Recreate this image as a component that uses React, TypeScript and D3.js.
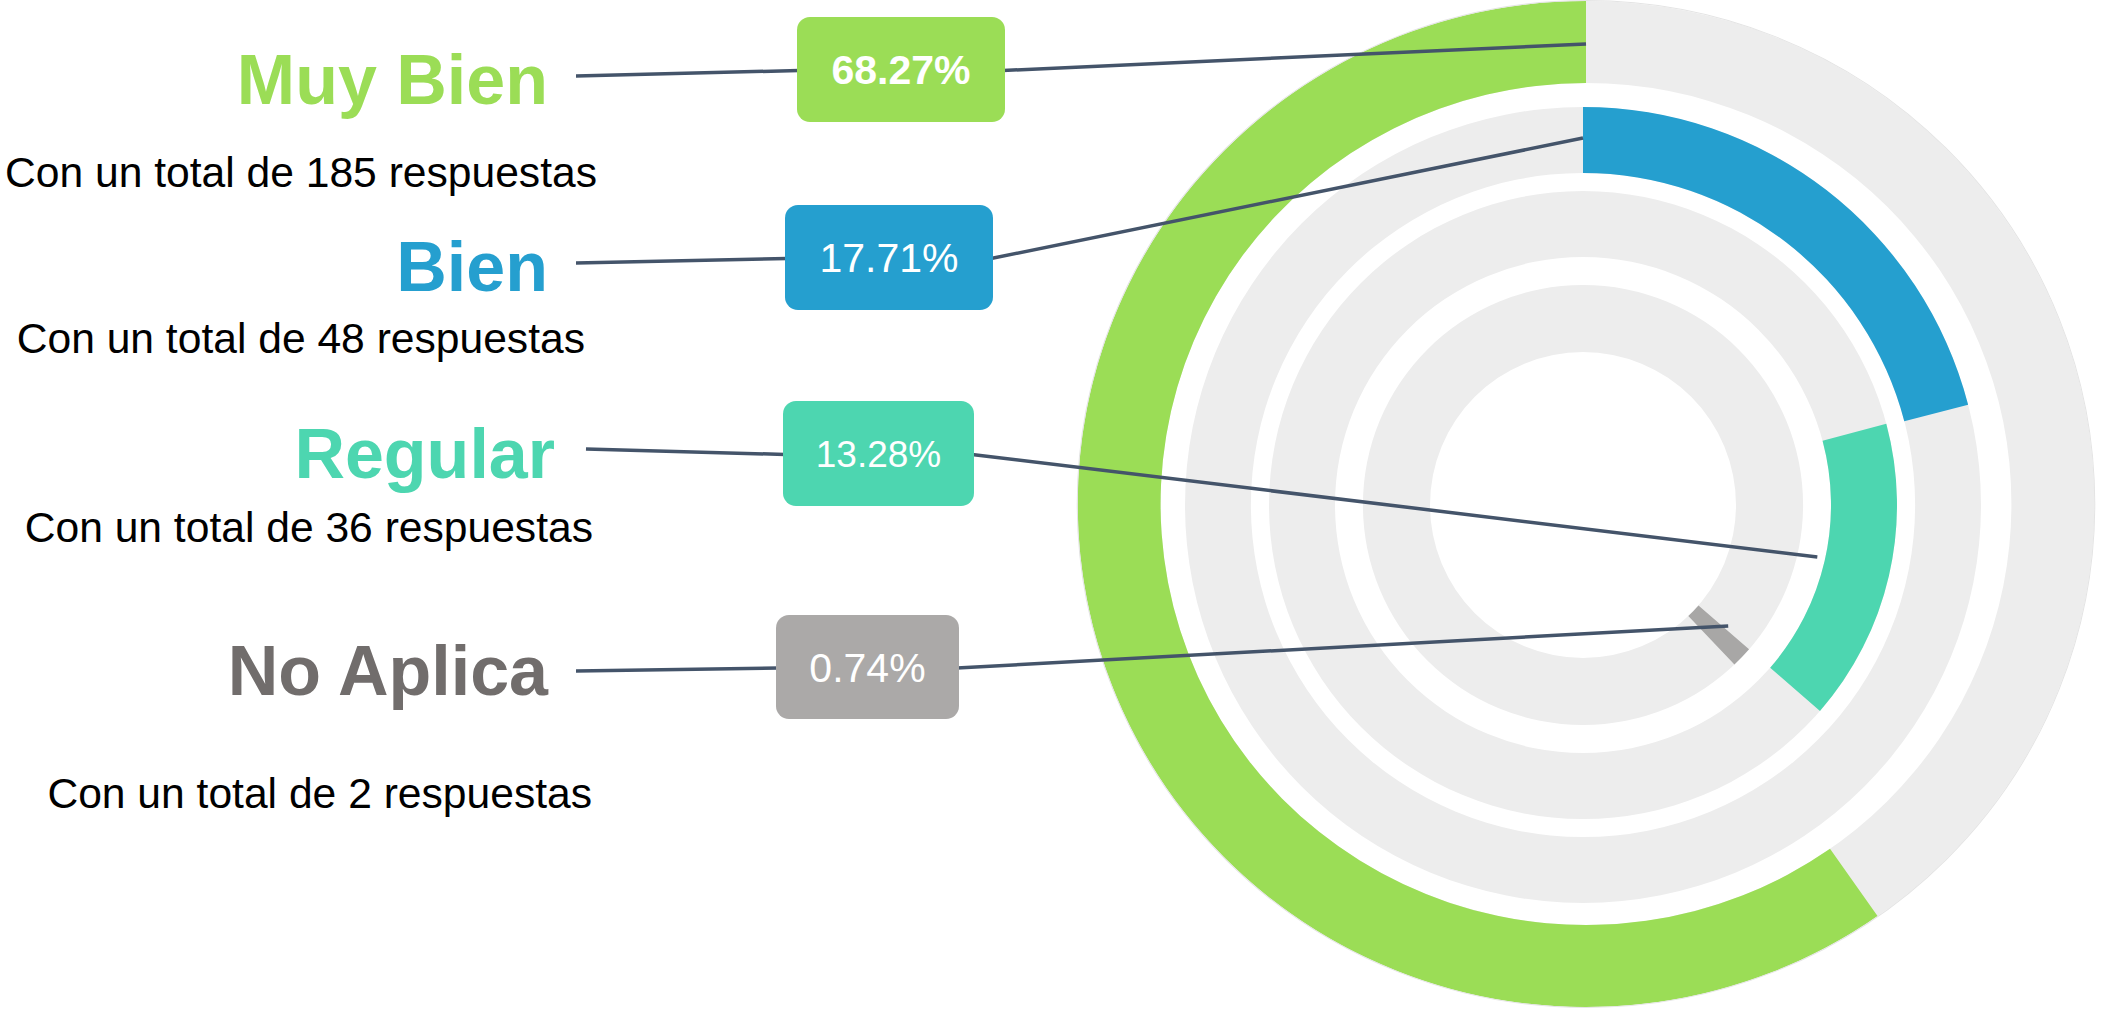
import React from "react";
import * as d3 from "d3";

// ---- data ----
const categories = ["Muy Bien", "Bien", "Regular", "No Aplica"];
const counts = [185, 48, 36, 2];
const percentLabels = ["68.27%", "17.71%", "13.28%", "0.74%"];
// arc extents (degrees, clockwise from 12 o'clock)
const arcStartDeg = [145, 0, 75, 131];
const arcEndDeg = [360, 75.4, 131, 136.5];
// where each leader line meets its ring (degrees)
const leaderAngleDeg = [0, 0, 102.5, 129.8];

// ---- styles / layout ----
const W = 2101;
const H = 1010;
const ringCenters = [
  { x: 1586, y: 504 },
  { x: 1583, y: 505 },
  { x: 1583, y: 505 },
  { x: 1583, y: 505 },
];
const rings = [
  [421, 503],
  [332, 398],
  [248, 314],
  [153, 220],
];
const ringStretchX = [1.0105, 1, 1, 1];
const leaderRadius = [460, 367, 240, 189];
const colors = ["#9BDD56", "#259FCF", "#4DD6B0", "#A8A7A6"];
const boxColors = ["#9BDD56", "#259FCF", "#4DD6B0", "#ABA9A8"];
const titleColors = ["#9BDD56", "#259FCF", "#4DD6B0", "#716D6C"];
const trackColor = "#EDEDED";
const lineColor = "#44546A";
const FONT = "'Liberation Sans', Arial, sans-serif";

const titleLayout = [
  { x: 548, y: 104 },
  { x: 548, y: 291 },
  { x: 555, y: 478 },
  { x: 548, y: 695 },
];
const subLayout = [
  { x: 597, y: 187 },
  { x: 585, y: 353 },
  { x: 593, y: 542 },
  { x: 592, y: 808 },
];
const boxLayout = [
  { x: 797, y: 17, w: 208, h: 105 },
  { x: 785, y: 205, w: 208, h: 105 },
  { x: 783, y: 401, w: 191, h: 105 },
  { x: 776, y: 615, w: 183, h: 104 },
];
const boxFontSize = [41, 41, 37, 41];
const lineStart = [
  { x: 576, y: 76 },
  { x: 576, y: 263 },
  { x: 586, y: 449 },
  { x: 576, y: 671 },
];

export default function App() {
  const angle = d3.scaleLinear().domain([0, 360]).range([0, 2 * Math.PI]);
  const arc = d3.arc<any>();

  return (
    <svg
      width={W}
      height={H}
      style={{ position: "absolute", left: 0, top: 0, background: "#fff" }}
      fontFamily={FONT}
    >
      {rings.map(([ri, ro], i) => (
        <g
          key={"r" + i}
          transform={`translate(${ringCenters[i].x},${ringCenters[i].y}) scale(${ringStretchX[i]},1)`}
        >
          <path
            d={
              arc({
                innerRadius: ri,
                outerRadius: ro,
                startAngle: 0,
                endAngle: 2 * Math.PI,
              }) as string
            }
            fill={trackColor}
          />
          <path
            d={
              arc({
                innerRadius: ri,
                outerRadius: ro,
                startAngle: angle(arcStartDeg[i]),
                endAngle: angle(arcEndDeg[i]),
              }) as string
            }
            fill={colors[i]}
          />
          {i === 0 && (
            <circle r={ro + 0.5} fill="none" stroke="#e4e4e4" strokeWidth={1} />
          )}
        </g>
      ))}
      {categories.map((c, i) => {
        const b = boxLayout[i];
        const bx = b.x + b.w / 2;
        const by = b.y + b.h / 2;
        const a = angle(leaderAngleDeg[i]);
        const ex = ringCenters[i].x + leaderRadius[i] * Math.sin(a);
        const ey = ringCenters[i].y - leaderRadius[i] * Math.cos(a);
        return (
          <g key={"l" + c}>
            <line
              x1={lineStart[i].x}
              y1={lineStart[i].y}
              x2={b.x + 2}
              y2={by + 1}
              stroke={lineColor}
              strokeWidth={3.5}
            />
            <line
              x1={b.x + b.w - 2}
              y1={by + 1}
              x2={ex}
              y2={ey}
              stroke={lineColor}
              strokeWidth={3.5}
            />
            <rect
              x={b.x}
              y={b.y}
              width={b.w}
              height={b.h}
              rx={13}
              ry={13}
              fill={boxColors[i]}
            />
            <text
              x={bx}
              y={by + boxFontSize[i] * 0.36}
              textAnchor="middle"
              fontSize={boxFontSize[i]}
              fontWeight={i === 0 ? "bold" : "normal"}
              fill="#fff"
            >
              {percentLabels[i]}
            </text>
            <text
              x={titleLayout[i].x}
              y={titleLayout[i].y}
              textAnchor="end"
              fontSize={70}
              fontWeight="bold"
              fill={titleColors[i]}
            >
              {c}
            </text>
            <text
              x={subLayout[i].x}
              y={subLayout[i].y}
              textAnchor="end"
              fontSize={42.6}
              fill="#000"
            >
              {`Con un total de ${counts[i]} respuestas`}
            </text>
          </g>
        );
      })}
    </svg>
  );
}
